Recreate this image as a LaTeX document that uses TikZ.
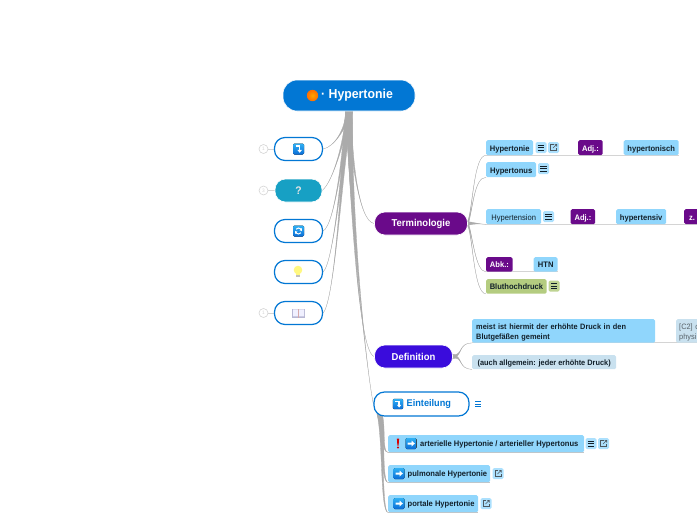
\documentclass[tikz,border=0pt]{standalone}
\usepackage{fontspec}
\setmainfont{Liberation Sans}
\newfontfamily\rb[FakeStretch=0.946]{Liberation Sans}
\usetikzlibrary{calc,backgrounds}
\definecolor{rootblue}{HTML}{0277D4}
\definecolor{termpurple}{HTML}{6A0A8A}
\definecolor{defblue}{HTML}{3A0CDC}
\definecolor{teal}{HTML}{17A0C4}
\definecolor{sky}{HTML}{90D6FC}
\definecolor{pale}{HTML}{C9E1EF}
\definecolor{moss}{HTML}{B4CC80}
\definecolor{conn}{HTML}{ABABAB}
\definecolor{under}{HTML}{D4D4D4}
\definecolor{ink}{HTML}{12202A}
\definecolor{iconlight}{HTML}{2FB0F4}
\definecolor{icondark}{HTML}{0A6CD6}
\tikzset{
  pill/.style={rounded corners=10.5,inner sep=0pt,align=center,text=white,font=\rb\bfseries\fontsize{10}{12}\selectfont,draw=white,line width=.6pt},
  whitepill/.style={rounded corners=10.5,inner sep=0pt,align=center,fill=white,draw=rootblue,line width=1.2pt},
  box/.style={rounded corners=1.5,inner sep=0pt,align=left,fill=sky,text=ink,font=\rb\bfseries\fontsize{8}{11}\selectfont},
  oneline/.style={text height=8pt,text depth=1pt},
  tagbox/.style={box,oneline,fill=termpurple,text=white,align=center},
  numdot/.style={circle,draw=under,fill=white,line width=.6pt,minimum size=9pt,inner sep=0pt,text=under,font=\rb\fontsize{5}{6}\selectfont},
  branch/.style={draw=conn,fill=conn,line width=.3pt},
  subline/.style={draw=under,line width=1pt},
  stub/.style={draw=under,line width=.8pt},
  menuico/.pic={
    \fill[sky!75,rounded corners=1.5] (-5.5,-5.5) rectangle (5.5,5.5);
    \draw[ink,line width=.7pt] (-3.2,-2.6) -- (3.2,-2.6) (-3.2,0) -- (3.2,0) (-3.2,2.6) -- (3.2,2.6);
  },
  linkico/.pic={
    \fill[sky!75,rounded corners=1.5] (-5.5,-5.5) rectangle (5.5,5.5);
    \draw[ink!75,line width=.6pt] (0,-3) -- (-3,-3) -- (-3,3) -- (3,3) -- (3,0);
    \draw[ink!75,line width=.6pt] (-.5,.5) -- (3.2,-3.2) (1,-3.2) -- (3.2,-3.2) -- (3.2,-1);
  },
  bluesq/.style={top color=iconlight,bottom color=icondark,rounded corners=1.3},
  arrowico/.pic={
    \fill[bluesq] (-5.5,-5.5) rectangle (5.5,5.5);
    \fill[white] (-3.5,-1) -- (.5,-1) -- (.5,-3) -- (3.8,0) -- (.5,3) -- (.5,1) -- (-3.5,1) -- cycle;
  },
  turnico/.pic={
    \fill[bluesq] (-5.5,-5.5) rectangle (5.5,5.5);
    \draw[white,line width=1.3pt] (-3,-3) -- (1.2,-3) -- (1.2,1);
    \fill[white] (-1.2,.8) -- (3.6,.8) -- (1.2,3.8) -- cycle;
  },
  reloadico/.pic={
    \fill[bluesq] (-5.5,-5.5) rectangle (5.5,5.5);
    \draw[white,line width=1pt] (-3,0) arc[start angle=180,end angle=35,radius=3];
    \draw[white,line width=1pt] (3,0) arc[start angle=0,end angle=-145,radius=3];
    \fill[white] (3.4,-.4) -- (.9,-.6) -- (3.2,-3) -- cycle (-3.4,.4) -- (-.9,.6) -- (-3.2,3) -- cycle;
  },
  bulbico/.pic={
    \fill[yellow!50] (0,-1.5) circle[radius=4.3];
    \fill[yellow!50] (-2,1) rectangle (2,3);
    \fill[gray!50] (-1.6,3) rectangle (1.6,5);
  },
  bookico/.pic={
    \fill[blue!25!gray!45] (-6.5,-4) rectangle (6.5,4.5);
    \fill[blue!6] (-5.5,-3.6) rectangle (-.5,3.4) (.5,-3.6) rectangle (5.5,3.4);
    \fill[red!35!gray!50] (-.6,-3.6) rectangle (.6,4.5);
  },
  bangico/.pic={
    \fill[red!85!black] (-1.1,-5) -- (1.1,-5) -- (.6,2) -- (-.6,2) -- cycle;
    \fill[red!85!black] (0,4) circle[radius=1.1];
  },
}
% tapered branch: start anchor, half width at start, end anchor, two control points
\newcommand\taper[5]{%
  \path[branch] ($(#1)+(-#2,0)$) .. controls #4 and #5 .. (#3) .. controls #5 and #4 .. ($(#1)+(#2,0)$) -- cycle;}
\newcommand\taperh[5]{%
  \path[branch] ($(#1)+(0,-#2)$) .. controls #4 and #5 .. (#3) .. controls #5 and #4 .. ($(#1)+(0,#2)$) -- cycle;}
\begin{document}
\begin{tikzpicture}[x=1pt,y=-1pt]
\useasboundingbox (0,0) rectangle (697,520);
\clip (0,0) rectangle (697,520);
% centre nodes
\node[pill,fill=rootblue,minimum width=132pt,minimum height=31pt,rounded corners=14,font=\rb\bfseries\fontsize{13}{14}\selectfont] (root) at (349,95.5) {\hspace*{16pt}· Hypertonie};
\shade[inner color=orange!70!yellow,outer color=orange!85!red] (312.5,95.5) circle[radius=5.7];
% left children
\node[whitepill,minimum width=48pt,minimum height=23pt] (c1) at (298.5,149) {};
\node[pill,fill=teal,minimum width=47pt,minimum height=23pt,text=white!80!gray,font=\rb\bfseries\fontsize{11}{12}\selectfont] (c2) at (298.5,190.5) {?};
\node[whitepill,minimum width=48pt,minimum height=23pt] (c3) at (298.5,231) {};
\node[whitepill,minimum width=48pt,minimum height=23pt] (c4) at (298.5,272) {};
\node[whitepill,minimum width=48pt,minimum height=23pt] (c5) at (298.5,313) {};
\pic at (298.5,149) {turnico};
\pic at (298.5,231) {reloadico};
\pic at (298,271.5) {bulbico};
\pic at (298.5,313) {bookico};
\node[numdot] (n1) at (263.5,149) {1};
\node[numdot] (n2) at (263.5,190.5) {3};
\node[numdot] (n3) at (263.5,313) {1};
% right children
\node[pill,fill=termpurple,minimum width=93pt,minimum height=23pt] (term) at (421,223.5) {Terminologie};
\node[pill,fill=defblue,minimum width=78pt,minimum height=23pt] (defi) at (413.5,356.5) {Definition};
\node[whitepill,minimum width=95pt,minimum height=24pt] (eint) at (421.5,404) {};
\pic[scale=.95] at (398,404) {turnico};
\node[font=\rb\bfseries\fontsize{9.7}{12}\selectfont,text=rootblue,inner sep=0pt,anchor=west] (einttxt) at (406.5,404.5) {Einteilung};
\draw[rootblue,line width=.6pt] (475,401.5) -- (481,401.5) (475,404) -- (481,404) (475,406.5) -- (481,406.5);
% Terminologie children
\node[box,oneline,anchor=north west,minimum width=47pt,minimum height=15pt,align=center] (hto) at (486,140) {Hypertonie};
\pic at (541,147.5) {menuico};
\pic at (553.5,147.5) {linkico};
\node[tagbox,anchor=north west,minimum width=24.5pt,minimum height=15pt] (adj1) at (578,140) {Adj.:};
\node[box,oneline,anchor=north west,minimum width=55pt,minimum height=15pt,align=center] (htoa) at (623.5,140) {hypertonisch};
\node[box,oneline,anchor=north west,minimum width=50pt,minimum height=15pt,align=center] (hton) at (486,162) {Hypertonus};
\pic at (543.5,168.5) {menuico};
\node[box,oneline,anchor=north west,minimum width=55pt,minimum height=15pt,align=center,font=\rb\fontsize{8}{11}\selectfont] (hten) at (486,209) {Hypertension};
\pic at (548.5,216.5) {menuico};
\node[tagbox,anchor=north west,minimum width=24.5pt,minimum height=15pt] (adj2) at (570.5,209) {Adj.:};
\node[box,oneline,anchor=north west,minimum width=50pt,minimum height=15pt,align=center] (htea) at (616,209) {hypertensiv};
\node[tagbox,anchor=north west,minimum width=24pt,minimum height=15pt,text width=21pt,align=left] (zz) at (684,209) {\hspace*{3.5pt}z.};
\node[tagbox,anchor=north west,minimum width=26.5pt,minimum height=14.5pt] (abk) at (486,257) {Abk.:};
\node[box,oneline,anchor=north west,minimum width=24pt,minimum height=14.5pt,align=center] (htn) at (533.5,257) {HTN};
\node[box,oneline,fill=moss,anchor=north west,minimum width=60.5pt,minimum height=14.5pt,align=center] (blut) at (486,279) {Bluthochdruck};
\fill[moss!85,rounded corners=1.5] (548.5,280.5) rectangle (559.5,291.5);
\draw[ink,line width=.7pt] (551,283.4) -- (557,283.4) (551,286) -- (557,286) (551,288.6) -- (557,288.6);
% Definition children
\node[box,anchor=north west,minimum width=183pt,minimum height=23.5pt,text width=175pt,text height=8.5pt,font=\rb\bfseries\fontsize{7.8}{10.5}\selectfont] (d1) at (472,319) {meist ist hiermit der erhöhte Druck in den\\Blutgefäßen gemeint};
\node[box,fill=pale,anchor=north west,minimum width=40pt,minimum height=23.5pt,text width=38pt,text height=8.5pt,font=\rb\fontsize{7.8}{10.5}\selectfont,text=ink!70] (d2) at (676,319) {\hspace*{2pt}[C2] d\\\hspace*{2pt}physi};
\node[box,oneline,fill=pale,anchor=north west,minimum width=144pt,minimum height=14pt,align=center,font=\rb\bfseries\fontsize{7.8}{10}\selectfont] (d3) at (472,355) {(auch allgemein: jeder erhöhte Druck)};
% Einteilung children
\node[box,anchor=north west,minimum width=196pt,minimum height=17pt] (e1) at (388,435) {};
\pic at (398,443.5) {bangico};
\pic at (411,443.5) {arrowico};
\node[font=\rb\bfseries\fontsize{8}{9}\selectfont,text=ink,inner sep=0pt,anchor=west] (e1t) at (420,444) {arterielle Hypertonie / arterieller Hypertonus};
\pic at (591,443.5) {menuico};
\pic at (603.5,443.5) {linkico};
\node[box,anchor=north west,minimum width=102pt,minimum height=17pt] (e2) at (388,465) {};
\pic at (399,473.5) {arrowico};
\node[font=\rb\bfseries\fontsize{8}{9}\selectfont,text=ink,inner sep=0pt,anchor=west] (e2t) at (407.5,474) {pulmonale Hypertonie};
\pic at (498,473.5) {linkico};
\node[box,anchor=north west,minimum width=90pt,minimum height=17pt] (e3) at (388,495) {};
\pic at (399,503.5) {arrowico};
\node[font=\rb\bfseries\fontsize{8}{9}\selectfont,text=ink,inner sep=0pt,anchor=west] (e3t) at (407.5,504) {portale Hypertonie};
\pic at (486,503.5) {linkico};
% connectors
\begin{scope}[on background layer]
\taper{root.south}{3}{c1.east}{(345,130)}{(334,147)}
\taper{root.south}{3}{c2.east}{(344,140)}{(334,180)}
\taper{root.south}{3.5}{c3.east}{(343,150)}{(335,225)}
\taper{root.south}{3.5}{c4.east}{(343,160)}{(334,262)}
\taper{root.south}{3.5}{c5.east}{(342,170)}{(335,300)}
\taper{root.south}{3}{term.west}{(351,150)}{(358,222)}
\taper{root.south}{3.5}{defi.west}{(351,200)}{(358,352)}
\taper{root.south}{3.5}{eint.west}{(352,240)}{(368,380)}
\draw[stub] (n1) -- (c1);
\draw[stub] (n2) -- (c2);
\draw[stub] (n3) -- (c5);
% Terminologie branches
\taperh{term.east}{2}{hto.south west}{(473,205)}{(474,155)}
\taperh{term.east}{2}{hton.south west}{(473,210)}{(474,177)}
\taperh{term.east}{2}{hten.south west}{(476,223)}{(480,224)}
\taperh{term.east}{2}{abk.south west}{(473,235)}{(475,271.5)}
\taperh{term.east}{2}{blut.south west}{(473,240)}{(474,293.5)}
\draw[subline] (hto.south west) -- (htoa.south east);
\draw[subline] (hten.south west) -- (zz.south east);
\draw[subline] (abk.south west) -- (htn.south east);
% Definition branches
\taperh{defi.east}{2}{d1.south west}{(463,356)}{(458,343)}
\taperh{defi.east}{2}{d3.south west}{(463,356)}{(458,369)}
\draw[subline] (d1.south west) -- (d2.south east);
% Einteilung branches
\path[branch] (377,414) .. controls (383,425) and (380,452) .. (e1.south west) .. controls (382,452) and (386,425) .. (382,414) -- cycle;
\path[branch] (377,414) .. controls (383,430) and (380,482) .. (e2.south west) .. controls (382,482) and (385,430) .. (382,414) -- cycle;
\path[branch] (377,414) .. controls (383,440) and (380,512) .. (e3.south west) .. controls (382,512) and (384,440) .. (381,414) -- cycle;
\draw[subline,draw=conn!70] (e1.south west) -- (e1.south east);
\draw[subline,draw=conn!70] (e2.south west) -- (e2.south east);
\draw[subline,draw=conn!70] (e3.south west) -- (e3.south east);
\end{scope}
\end{tikzpicture}
\end{document}
